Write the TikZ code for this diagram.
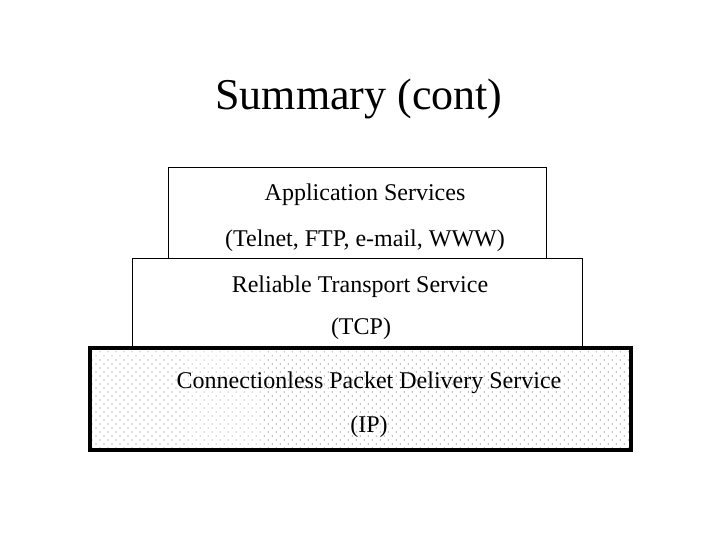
\documentclass[tikz,border=0pt]{standalone}
\usepackage{fontspec}
\setmainfont{Liberation Serif}
\usetikzlibrary{positioning,patterns.meta}

\begin{document}
\begin{tikzpicture}[x=1pt, y=-1pt]

\tikzstyle{layer}=[draw, line width=1pt, fill=white, inner sep=0pt]
\tikzstyle{base}=[layer, line width=3.5pt, pattern={Dots[distance=5.66pt, angle=45, radius=0.5pt]}, pattern color=black]
\tikzstyle{lyrtext}=[anchor=base, inner sep=0pt, font=\fontsize{24}{26}\selectfont]

\useasboundingbox (0,0) rectangle (720,540);

\node[anchor=base, inner sep=0pt, font=\fontsize{44}{48}\selectfont] (title) at (359,110) {Summary (cont)};

% layers, top to bottom
\node[layer, minimum width=378pt, minimum height=90pt] (app) at (357,213) {};
\node[layer, minimum width=450pt, minimum height=88pt] (tcp) at (357,302) {};
\node[base, minimum width=541pt, minimum height=102pt] (ip) at (360.5,399) {};

\node[lyrtext] (appa) at (365,201) {Application Services};
\node[lyrtext] (appb) at (365,247) {(Telnet, FTP, e-mail, WWW)};
\node[lyrtext] (tcpa) at (360,292) {Reliable Transport Service};
\node[lyrtext] (tcpb) at (361,334) {(TCP)};
\node[lyrtext] (ipa) at (369,388) {Connectionless Packet Delivery Service};
\node[lyrtext] (ipb) at (369,432) {(IP)};

\end{tikzpicture}
\end{document}
